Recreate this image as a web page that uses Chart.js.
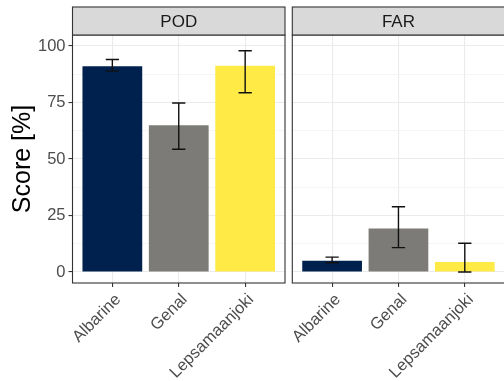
<!DOCTYPE html>
<html>
<head>
<meta charset="utf-8">
<script src="https://cdn.jsdelivr.net/npm/chart.js@4.4.1/dist/chart.umd.min.js"></script>
<style>
  html, body { margin: 0; padding: 0; background: #fff; overflow: hidden; }
  #wrap { position: relative; width: 504px; height: 381px; overflow: hidden; }
  canvas { position: absolute; top: 0; }
  #pod { left: 0; }
  #far { left: 289px; }
</style>
</head>
<body>
<div id="wrap">
  <canvas id="pod" width="289" height="381"></canvas>
  <canvas id="far" width="217" height="381"></canvas>
</div>
<script>
// Rivers compared in each panel
const categories = ['Albarine', 'Genal', 'Lepsamaanjoki'];
const barColors = ['#00204D', '#7C7B78', '#FFEA46'];

// Probability of detection (%) with its interval
const podScore = [91.0, 64.9, 91.3];
const podLower = [88.9, 54.3, 79.3];
const podUpper = [94.0, 74.8, 97.9];

// False alarm ratio (%) with its interval
const farScore = [5.0, 19.2, 4.4];
const farLower = [4.1, 10.8, 0.0];
const farUpper = [6.6, 28.9, 12.7];

// Axis ticks
const yMajorTicks = [0, 25, 50, 75, 100];
const yMinorTicks = [12.5, 37.5, 62.5, 87.5];

const FONT = '"Liberation Sans", Arial, Helvetica, sans-serif';
const STRIP_TOP = 7;
const PANEL_TOP = 35;
const PANEL_BOTTOM = 283;

// Panel frame, facet strip and error bars
const facetPlugin = {
  id: 'facet',
  afterDatasetsDraw(chart, args, opts) {
    const { ctx, scales: { x, y } } = chart;
    const ds = chart.data.datasets[0];
    ctx.save();
    ctx.strokeStyle = '#111111';
    ctx.lineWidth = 1.4;
    ds.data.forEach((pt, i) => {
      const cx = x.getPixelForValue(pt.x);
      const half = (x.getPixelForValue(pt.x + 0.1) - cx);
      const yl = y.getPixelForValue(opts.lower[i]);
      const yu = y.getPixelForValue(opts.upper[i]);
      ctx.beginPath();
      ctx.moveTo(cx, yl); ctx.lineTo(cx, yu);
      ctx.moveTo(cx - half, yu); ctx.lineTo(cx + half, yu);
      ctx.moveTo(cx - half, yl); ctx.lineTo(cx + half, yl);
      ctx.stroke();
    });
    ctx.restore();
  },
  afterDraw(chart, args, opts) {
    const { ctx, chartArea: a } = chart;
    ctx.save();
    // panel border
    ctx.strokeStyle = '#333333';
    ctx.lineWidth = 1.1;
    ctx.strokeRect(a.left, a.top, a.right - a.left, a.bottom - a.top);
    // strip
    ctx.fillStyle = '#D9D9D9';
    ctx.fillRect(a.left, STRIP_TOP, a.right - a.left, a.top - STRIP_TOP);
    ctx.strokeRect(a.left, STRIP_TOP, a.right - a.left, a.top - STRIP_TOP);
    ctx.fillStyle = '#1A1A1A';
    ctx.font = '17px ' + FONT;
    ctx.textAlign = 'center';
    ctx.textBaseline = 'middle';
    ctx.fillText(opts.label, (a.left + a.right) / 2, (STRIP_TOP + a.top) / 2 + 1);
    ctx.restore();
  }
};

function makePanel(id, label, values, lower, upper, showY, yWidth, rightPad) {
  const points = values.map((v, i) => ({ x: i + 1, y: v }));
  return new Chart(document.getElementById(id), {
    type: 'bar',
    data: {
      datasets: [{
        data: points,
        backgroundColor: barColors,
        borderWidth: 0,
        categoryPercentage: 1,
        barPercentage: 0.9
      }]
    },
    plugins: [facetPlugin],
    options: {
      responsive: false,
      animation: false,
      events: [],
      layout: { padding: { top: PANEL_TOP, right: rightPad, left: 0, bottom: 0 } },
      plugins: {
        legend: { display: false },
        tooltip: { enabled: false },
        facet: { label, lower, upper }
      },
      scales: {
        x: {
          type: 'linear',
          min: 0.4,
          max: 3.6,
          offset: false,
          afterBuildTicks: s => { s.ticks = categories.map((c, i) => ({ value: i + 1 })); },
          afterFit: s => { s.height = 381 - PANEL_BOTTOM; s.paddingLeft = 0; s.paddingRight = 0; },
          border: { display: false },
          grid: {
            offset: false,
            color: '#EBEBEB',
            lineWidth: 1.1,
            tickColor: '#333333',
            tickLength: 4,
            drawTicks: true
          },
          ticks: {
            autoSkip: false,
            minRotation: 45,
            maxRotation: 45,
            padding: 3,
            labelOffset: 6,
            color: '#4D4D4D',
            font: { family: FONT, size: 16.5 },
            callback: v => categories[Math.round(v) - 1]
          }
        },
        y: {
          type: 'linear',
          min: -4.87,
          max: 104.87,
          afterBuildTicks: s => {
            s.ticks = yMajorTicks.concat(yMinorTicks).map(v => ({ value: v }));
          },
          afterFit: s => { s.width = yWidth; s.paddingTop = 0; s.paddingBottom = 0; },
          border: { display: false },
          grid: {
            color: c => (c.tick && yMinorTicks.includes(c.tick.value)) ? '#F3F3F3' : '#EBEBEB',
            lineWidth: c => (c.tick && yMinorTicks.includes(c.tick.value)) ? 0.8 : 1.1,
            tickColor: c => (c.tick && yMinorTicks.includes(c.tick.value)) ? 'rgba(0,0,0,0)' : '#333333',
            tickLength: 4,
            drawTicks: showY
          },
          title: {
            display: showY,
            text: 'Score [%]',
            color: '#000000',
            font: { family: FONT, size: 25 },
            padding: { top: 8, bottom: 0 }
          },
          ticks: {
            display: showY,
            padding: 3,
            color: '#4D4D4D',
            font: { family: FONT, size: 16.5 },
            callback: v => (yMajorTicks.includes(v) ? String(v) : '')
          }
        }
      }
    }
  });
}

makePanel('pod', 'POD', podScore, podLower, podUpper, true, 72.5, 289 - 285);
makePanel('far', 'FAR', farScore, farLower, farUpper, false, 3.3, 1.4);
</script>
</body>
</html>
